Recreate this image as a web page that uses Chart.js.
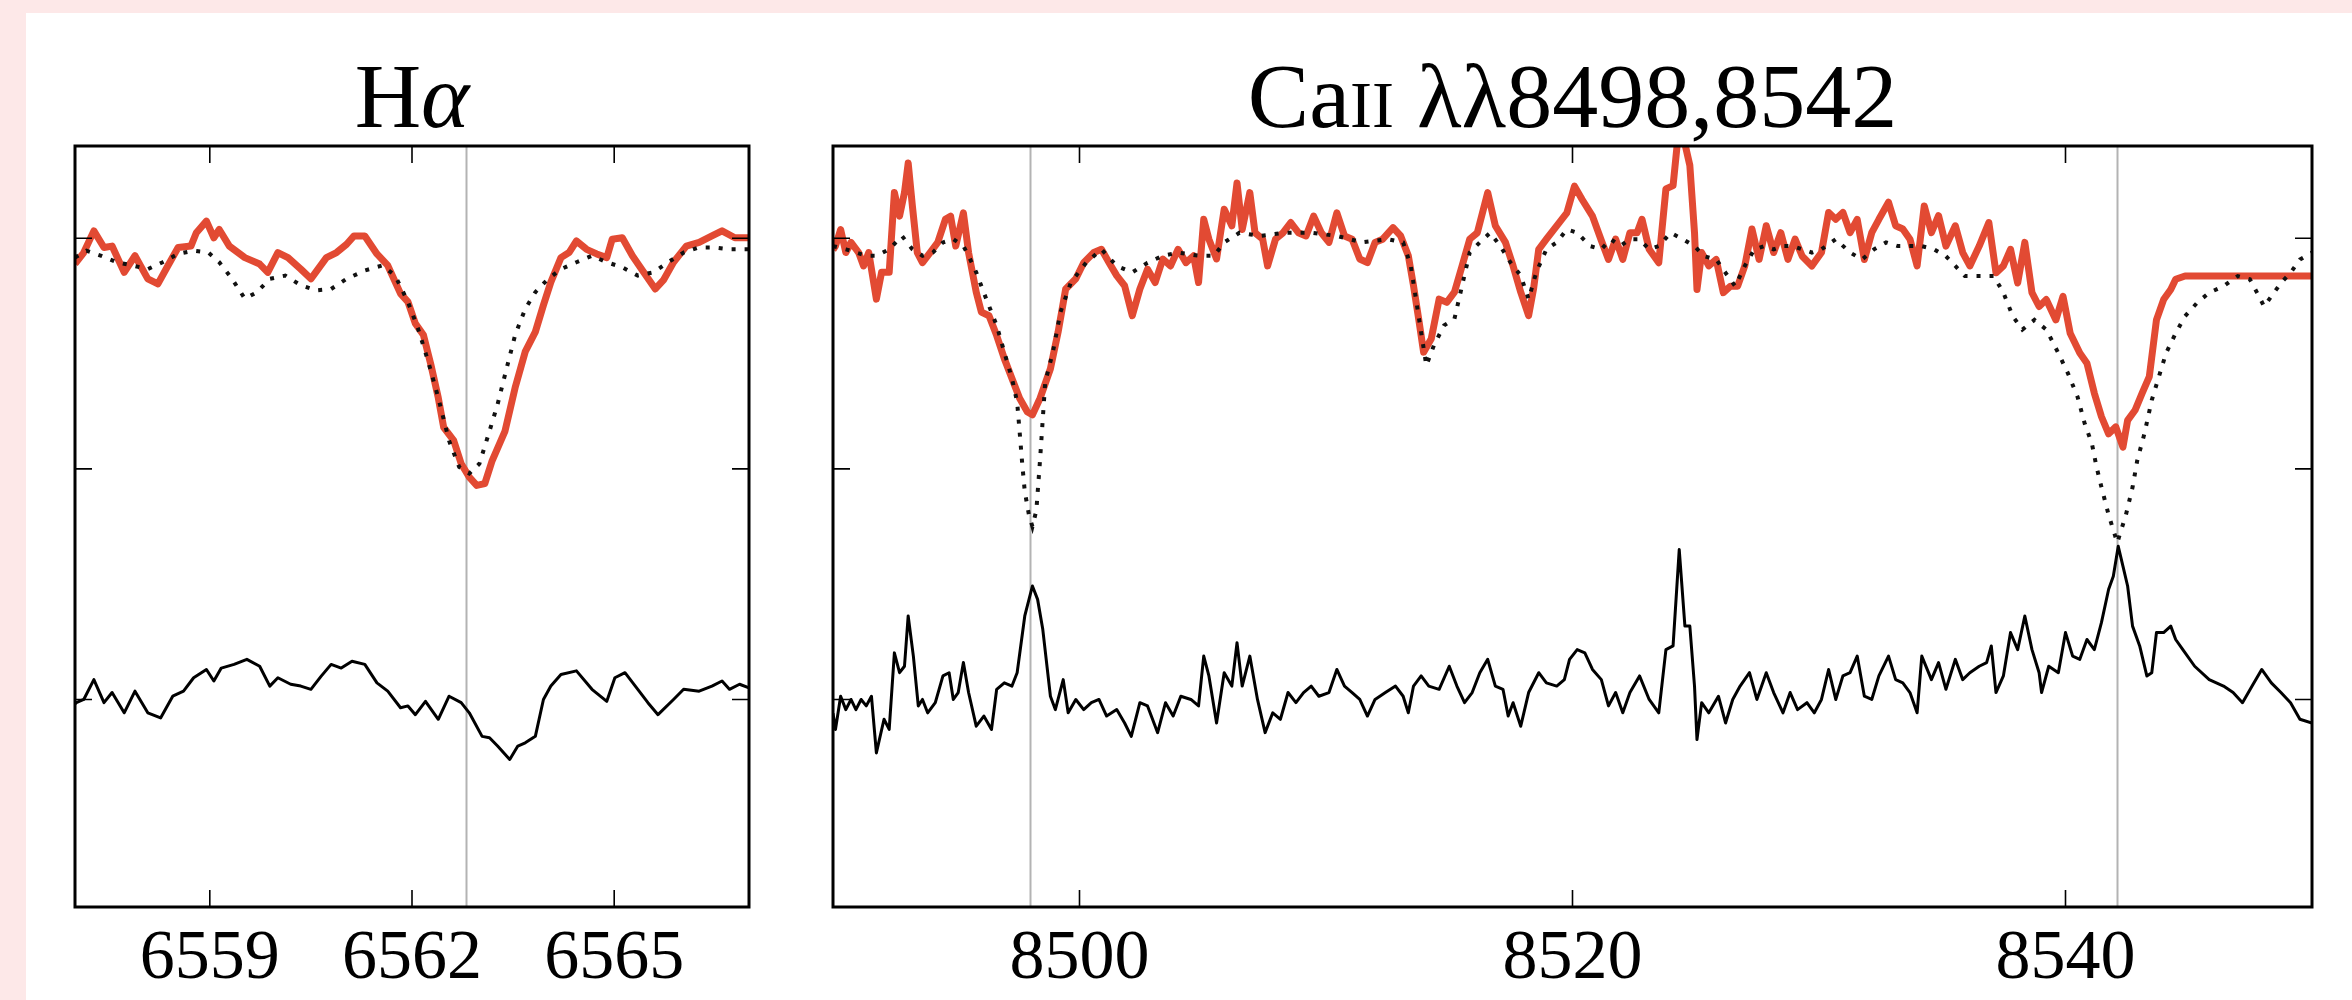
<!DOCTYPE html>
<html>
<head>
<meta charset="utf-8">
<script src="https://cdn.jsdelivr.net/npm/chart.js@4.4.1/dist/chart.umd.min.js"></script>
<style>
  html, body { margin: 0; padding: 0; width: 2352px; height: 1000px; overflow: hidden; background: #fde8e8; }
  #sheet { position: absolute; left: 26px; top: 13px; width: 2326px; height: 987px; background: #fff; }
  canvas { position: absolute; top: 0; }
  #ha { left: 0; }
  #ca { left: 790px; }
</style>
</head>
<body>
<div id="sheet"></div>
<canvas id="ha" width="790" height="1000"></canvas>
<canvas id="ca" width="1562" height="1000"></canvas>
<script>
/* ════════════════════════════════════════════════════
   Hα  /  Ca II λλ8498,8542 — observed vs. template
   ════════════════════════════════════════════════════ */

const FONT = "'Liberation Serif', 'Times New Roman', serif";
const RED = "#e24a33";

/* ─── Ejes ───────────────────────────────────────────── */
const fluxRange = [-0.45, 1.2];
const fluxTicks = [0, 0.5, 1.0];

const haRange = [6557, 6567];
const haTicks = [6559, 6562, 6565];
const haRest = [6562.8];

const caRange = [8490, 8550];
const caTicks = [8500, 8520, 8540];
const caRest = [8498.0, 8542.1];

/* ─── Hα: observado (rojo) ───────────────────────────── */
const haObserved = [
  [6557.0, 0.945], [6557.02, 0.948], [6557.13, 0.969], [6557.28, 1.016], [6557.43, 0.98], [6557.55, 0.983],
  [6557.73, 0.926], [6557.89, 0.962], [6558.08, 0.912], [6558.23, 0.901], [6558.38, 0.941], [6558.53, 0.98],
  [6558.72, 0.983], [6558.8, 1.012], [6558.95, 1.037], [6559.06, 1.001], [6559.14, 1.019], [6559.29, 0.983],
  [6559.52, 0.958], [6559.74, 0.944], [6559.86, 0.926], [6560.01, 0.969], [6560.16, 0.958], [6560.35, 0.933],
  [6560.5, 0.912], [6560.73, 0.958], [6560.88, 0.969], [6561.03, 0.987], [6561.14, 1.005], [6561.3, 1.005],
  [6561.48, 0.966], [6561.64, 0.941], [6561.83, 0.88], [6561.94, 0.862], [6562.05, 0.815], [6562.17, 0.79],
  [6562.28, 0.726], [6562.39, 0.654], [6562.47, 0.59], [6562.62, 0.561], [6562.73, 0.511], [6562.85, 0.482],
  [6562.96, 0.464], [6563.08, 0.468], [6563.19, 0.518], [6563.38, 0.582], [6563.53, 0.676], [6563.68, 0.754],
  [6563.83, 0.797], [6563.95, 0.855], [6564.06, 0.905], [6564.21, 0.958], [6564.33, 0.969], [6564.44, 0.994],
  [6564.59, 0.976], [6564.74, 0.966], [6564.89, 0.958], [6564.97, 0.998], [6565.12, 1.001], [6565.27, 0.962],
  [6565.42, 0.93], [6565.61, 0.89], [6565.73, 0.909], [6565.88, 0.948], [6566.07, 0.983], [6566.26, 0.991],
  [6566.45, 1.005], [6566.6, 1.016], [6566.79, 1.001], [6567.0, 1.001],
];

/* ─── Hα: plantilla (punteada) ───────────────────────── */
const haTemplate = [
  [6557.0, 0.958], [6557.17, 0.973], [6557.39, 0.962], [6557.62, 0.948], [6557.85, 0.941], [6558.08, 0.933],
  [6558.3, 0.948], [6558.53, 0.966], [6558.76, 0.973], [6558.98, 0.969], [6559.14, 0.948], [6559.33, 0.912],
  [6559.52, 0.869], [6559.7, 0.883], [6559.89, 0.912], [6560.12, 0.919], [6560.35, 0.898], [6560.58, 0.887],
  [6560.8, 0.89], [6561.03, 0.912], [6561.3, 0.93], [6561.56, 0.941], [6561.75, 0.919], [6561.94, 0.862],
  [6562.09, 0.804], [6562.24, 0.733], [6562.39, 0.654], [6562.55, 0.561], [6562.7, 0.504], [6562.85, 0.49],
  [6563.0, 0.511], [6563.15, 0.582], [6563.27, 0.64], [6563.38, 0.704], [6563.53, 0.79], [6563.68, 0.847],
  [6563.83, 0.883], [6564.02, 0.912], [6564.21, 0.933], [6564.44, 0.948], [6564.67, 0.962], [6564.89, 0.948],
  [6565.12, 0.937], [6565.35, 0.919], [6565.58, 0.926], [6565.8, 0.948], [6566.03, 0.969], [6566.26, 0.98],
  [6566.48, 0.98], [6566.71, 0.976], [6567.0, 0.976],
];

/* ─── Hα: residuo ────────────────────────────────────── */
const haResidual = [
  [6557.0, -0.01], [6557.02, -0.007], [6557.13, 0], [6557.28, 0.043], [6557.43, -0.007], [6557.55, 0.015],
  [6557.73, -0.029], [6557.89, 0.018], [6558.08, -0.029], [6558.27, -0.04], [6558.45, 0.007], [6558.61, 0.018],
  [6558.76, 0.047], [6558.95, 0.065], [6559.06, 0.04], [6559.17, 0.068], [6559.36, 0.076], [6559.55, 0.087],
  [6559.74, 0.072], [6559.89, 0.029], [6560.01, 0.047], [6560.2, 0.033], [6560.35, 0.029], [6560.5, 0.022],
  [6560.65, 0.05], [6560.8, 0.076], [6560.95, 0.068], [6561.11, 0.083], [6561.3, 0.076], [6561.48, 0.036],
  [6561.64, 0.018], [6561.83, -0.018], [6561.94, -0.014], [6562.05, -0.033], [6562.2, -0.004], [6562.39, -0.043],
  [6562.55, 0.007], [6562.73, -0.007], [6562.85, -0.029], [6563.04, -0.08], [6563.15, -0.083], [6563.27, -0.101],
  [6563.45, -0.13], [6563.57, -0.101], [6563.68, -0.094], [6563.83, -0.08], [6563.95, 0], [6564.06, 0.029],
  [6564.21, 0.054], [6564.44, 0.062], [6564.67, 0.022], [6564.89, -0.004], [6565.01, 0.047], [6565.16, 0.058],
  [6565.35, 0.022], [6565.5, -0.007], [6565.65, -0.033], [6565.88, 0], [6566.03, 0.022], [6566.26, 0.018],
  [6566.45, 0.029], [6566.6, 0.04], [6566.71, 0.022], [6566.86, 0.033], [6567.0, 0.025],
];

/* ─── Ca II: observado (rojo) ────────────────────────── */
const caObserved = [
  [8490.0, 0.975], [8490.1, 0.983], [8490.31, 1.019], [8490.52, 0.969], [8490.73, 0.991], [8491.04, 0.969],
  [8491.24, 0.94], [8491.45, 0.969], [8491.76, 0.868], [8491.97, 0.926], [8492.28, 0.926], [8492.49, 1.099],
  [8492.7, 1.048], [8492.9, 1.099], [8493.05, 1.163], [8493.22, 1.07], [8493.42, 0.969], [8493.63, 0.947],
  [8493.94, 0.969], [8494.25, 0.991], [8494.56, 1.041], [8494.77, 1.048], [8494.98, 0.983], [8495.29, 1.055],
  [8495.5, 0.969], [8495.81, 0.883], [8496.02, 0.84], [8496.33, 0.832], [8496.64, 0.789], [8496.95, 0.739],
  [8497.26, 0.696], [8497.57, 0.653], [8497.88, 0.624], [8498.09, 0.617], [8498.4, 0.653], [8498.82, 0.717],
  [8499.13, 0.796], [8499.44, 0.89], [8499.85, 0.912], [8500.17, 0.947], [8500.58, 0.969], [8500.89, 0.976],
  [8501.2, 0.947], [8501.51, 0.919], [8501.83, 0.897], [8502.14, 0.832], [8502.45, 0.89], [8502.76, 0.933],
  [8503.07, 0.904], [8503.38, 0.955], [8503.69, 0.94], [8504.0, 0.976], [8504.32, 0.947], [8504.63, 0.962],
  [8504.83, 0.904], [8505.04, 1.041], [8505.25, 0.998], [8505.56, 0.955], [8505.87, 1.063], [8506.18, 1.027],
  [8506.39, 1.12], [8506.6, 1.019], [8506.91, 1.099], [8507.12, 1.012], [8507.43, 0.998], [8507.63, 0.94],
  [8507.95, 0.998], [8508.26, 1.012], [8508.57, 1.034], [8508.88, 1.012], [8509.19, 1.005], [8509.5, 1.048],
  [8509.81, 1.012], [8510.12, 0.991], [8510.44, 1.055], [8510.75, 1.005], [8511.06, 0.998], [8511.37, 0.955],
  [8511.68, 0.947], [8511.99, 0.991], [8512.3, 0.998], [8512.72, 1.023], [8513.03, 1.005], [8513.34, 0.962],
  [8513.55, 0.897], [8513.76, 0.825], [8513.96, 0.753], [8514.27, 0.782], [8514.59, 0.868], [8514.9, 0.861],
  [8515.21, 0.883], [8515.52, 0.94], [8515.83, 0.998], [8516.14, 1.012], [8516.56, 1.099], [8516.87, 1.027],
  [8517.28, 0.991], [8517.59, 0.94], [8517.9, 0.883], [8518.22, 0.832], [8518.42, 0.89], [8518.63, 0.976],
  [8518.94, 0.998], [8519.36, 1.027], [8519.77, 1.055], [8520.08, 1.113], [8520.39, 1.084], [8520.81, 1.048],
  [8521.17, 0.995], [8521.46, 0.954], [8521.75, 0.998], [8522.04, 0.954], [8522.33, 1.012], [8522.62, 1.012],
  [8522.82, 1.041], [8523.11, 0.976], [8523.5, 0.947], [8523.79, 1.107], [8524.08, 1.114], [8524.27, 1.215],
  [8524.56, 1.205], [8524.76, 1.158], [8524.95, 1.012], [8525.05, 0.889], [8525.24, 0.969], [8525.53, 0.94],
  [8525.83, 0.954], [8526.12, 0.882], [8526.41, 0.896], [8526.7, 0.896], [8526.99, 0.94], [8527.28, 1.02],
  [8527.57, 0.954], [8527.86, 1.027], [8528.16, 0.969], [8528.45, 1.012], [8528.74, 0.954], [8529.03, 0.998],
  [8529.32, 0.961], [8529.71, 0.94], [8530.1, 0.969], [8530.39, 1.056], [8530.68, 1.041], [8530.97, 1.056],
  [8531.26, 1.012], [8531.55, 1.041], [8531.84, 0.954], [8532.14, 1.012], [8532.43, 1.041], [8532.82, 1.078],
  [8533.11, 1.027], [8533.4, 1.02], [8533.69, 0.998], [8533.98, 0.94], [8534.27, 1.07], [8534.56, 1.012],
  [8534.85, 1.049], [8535.15, 0.983], [8535.53, 1.027], [8535.83, 0.969], [8536.12, 0.94], [8536.5, 0.983],
  [8536.89, 1.034], [8537.18, 0.925], [8537.48, 0.94], [8537.77, 0.976], [8538.06, 0.903], [8538.35, 0.991],
  [8538.64, 0.882], [8538.93, 0.852], [8539.22, 0.867], [8539.61, 0.823], [8539.9, 0.874], [8540.19, 0.794],
  [8540.58, 0.751], [8540.87, 0.729], [8541.17, 0.664], [8541.46, 0.613], [8541.75, 0.576], [8542.04, 0.591],
  [8542.33, 0.547], [8542.52, 0.605], [8542.82, 0.627], [8543.11, 0.664], [8543.4, 0.7], [8543.69, 0.823],
  [8543.98, 0.867], [8544.27, 0.889], [8544.47, 0.911], [8544.85, 0.918], [8550.0, 0.918],
];

/* ─── Ca II: plantilla (punteada) ────────────────────── */
const caTemplate = [
  [8490.0, 0.983], [8490.52, 0.976], [8490.93, 0.969], [8491.35, 0.962], [8491.76, 0.962], [8492.28, 0.976],
  [8492.8, 1.005], [8493.22, 0.976], [8493.63, 0.962], [8494.05, 0.969], [8494.46, 0.991], [8494.88, 0.998],
  [8495.29, 0.983], [8495.5, 0.962], [8495.81, 0.926], [8496.22, 0.868], [8496.64, 0.811], [8496.95, 0.753],
  [8497.26, 0.696], [8497.47, 0.645], [8497.57, 0.581], [8497.68, 0.509], [8497.78, 0.451], [8497.95, 0.4],
  [8498.09, 0.375], [8498.25, 0.41], [8498.4, 0.52], [8498.61, 0.688], [8498.92, 0.753], [8499.23, 0.84],
  [8499.65, 0.904], [8500.27, 0.947], [8500.89, 0.976], [8501.51, 0.94], [8502.14, 0.926], [8502.76, 0.947],
  [8503.38, 0.962], [8504.0, 0.969], [8504.83, 0.962], [8505.46, 0.962], [8505.87, 0.991], [8506.49, 1.012],
  [8507.32, 1.005], [8508.36, 1.012], [8509.4, 1.012], [8510.44, 1.005], [8511.47, 0.991], [8512.51, 0.998],
  [8513.13, 0.991], [8513.44, 0.94], [8513.65, 0.868], [8513.86, 0.796], [8514.07, 0.724], [8514.38, 0.768],
  [8514.79, 0.811], [8515.21, 0.825], [8515.52, 0.897], [8515.83, 0.969], [8516.24, 0.991], [8516.66, 1.012],
  [8517.07, 0.983], [8517.49, 0.947], [8517.9, 0.919], [8518.22, 0.868], [8518.53, 0.926], [8518.94, 0.976],
  [8519.36, 0.991], [8519.77, 1.019], [8520.19, 1.012], [8520.71, 0.983], [8521.17, 0.976], [8521.55, 0.998],
  [8521.94, 0.983], [8522.33, 0.998], [8522.72, 0.998], [8523.11, 0.976], [8523.5, 0.983], [8523.98, 1.012],
  [8524.47, 0.998], [8524.95, 0.983], [8525.34, 0.961], [8525.83, 0.954], [8526.21, 0.925], [8526.6, 0.896],
  [8526.99, 0.94], [8527.38, 0.976], [8527.77, 0.983], [8528.16, 0.976], [8528.54, 0.983], [8528.93, 0.983],
  [8529.32, 0.976], [8529.71, 0.969], [8530.1, 0.976], [8530.68, 0.998], [8531.26, 0.969], [8531.75, 0.954],
  [8532.23, 0.976], [8532.72, 0.991], [8533.2, 0.983], [8533.69, 0.983], [8534.17, 0.983], [8534.66, 0.976],
  [8535.15, 0.961], [8535.53, 0.94], [8535.92, 0.918], [8536.5, 0.918], [8537.09, 0.918], [8537.48, 0.882],
  [8537.86, 0.831], [8538.25, 0.802], [8538.74, 0.823], [8539.22, 0.802], [8539.71, 0.751], [8540.1, 0.707],
  [8540.49, 0.656], [8540.78, 0.598], [8541.07, 0.555], [8541.26, 0.504], [8541.46, 0.46], [8541.75, 0.4],
  [8542.1, 0.34], [8542.45, 0.4], [8542.72, 0.46], [8542.91, 0.518], [8543.2, 0.576], [8543.5, 0.649],
  [8543.79, 0.7], [8544.08, 0.751], [8544.47, 0.794], [8544.85, 0.831], [8545.34, 0.86], [8545.83, 0.882],
  [8546.41, 0.896], [8546.99, 0.918], [8547.48, 0.911], [8547.77, 0.882], [8548.06, 0.852], [8548.35, 0.874],
  [8548.74, 0.903], [8549.13, 0.925], [8549.51, 0.954], [8550.0, 0.969],
];

/* ─── Ca II: residuo ─────────────────────────────────── */
const caResidual = [
  [8490.0, -0.03], [8490.1, -0.065], [8490.31, 0.007], [8490.52, -0.022], [8490.73, 0], [8490.93, -0.022],
  [8491.14, 0], [8491.35, -0.014], [8491.56, 0.007], [8491.76, -0.116], [8492.07, -0.043], [8492.28, -0.065],
  [8492.49, 0.101], [8492.7, 0.058], [8492.9, 0.072], [8493.05, 0.181], [8493.26, 0.094], [8493.46, -0.014],
  [8493.63, 0], [8493.84, -0.029], [8494.15, -0.007], [8494.46, 0.051], [8494.71, 0.058], [8494.88, 0],
  [8495.08, 0.015], [8495.29, 0.08], [8495.5, 0.015], [8495.81, -0.058], [8496.12, -0.036], [8496.43, -0.065],
  [8496.64, 0.022], [8496.95, 0.036], [8497.26, 0.029], [8497.47, 0.058], [8497.78, 0.181], [8498.09, 0.246],
  [8498.3, 0.217], [8498.51, 0.152], [8498.82, 0.007], [8499.02, -0.022], [8499.34, 0.043], [8499.54, -0.029],
  [8499.85, 0], [8500.17, -0.022], [8500.48, -0.007], [8500.79, 0], [8501.1, -0.036], [8501.51, -0.022],
  [8501.83, -0.051], [8502.1, -0.08], [8502.45, -0.007], [8502.76, -0.014], [8503.17, -0.072], [8503.49, -0.007],
  [8503.8, -0.036], [8504.11, 0.007], [8504.52, 0], [8504.83, -0.014], [8505.04, 0.094], [8505.25, 0.051],
  [8505.56, -0.051], [8505.87, 0.058], [8506.18, 0.029], [8506.39, 0.123], [8506.6, 0.029], [8506.91, 0.094],
  [8507.22, 0], [8507.53, -0.072], [8507.84, -0.029], [8508.15, -0.043], [8508.46, 0.015], [8508.78, -0.007],
  [8509.09, 0.015], [8509.4, 0.029], [8509.71, 0.007], [8510.12, 0.015], [8510.44, 0.065], [8510.75, 0.029],
  [8511.06, 0.015], [8511.37, 0], [8511.68, -0.036], [8511.99, 0], [8512.41, 0.015], [8512.82, 0.029],
  [8513.13, 0.007], [8513.34, -0.029], [8513.55, 0.029], [8513.86, 0.051], [8514.17, 0.029], [8514.59, 0.022],
  [8515.0, 0.072], [8515.31, 0.029], [8515.62, -0.007], [8515.93, 0.015], [8516.24, 0.058], [8516.56, 0.087],
  [8516.87, 0.029], [8517.18, 0.022], [8517.39, -0.036], [8517.59, -0.007], [8517.9, -0.058], [8518.22, 0.015],
  [8518.63, 0.058], [8518.94, 0.036], [8519.36, 0.029], [8519.67, 0.043], [8519.88, 0.087], [8520.19, 0.108],
  [8520.5, 0.101], [8520.81, 0.065], [8521.17, 0.043], [8521.46, -0.014], [8521.75, 0.015], [8522.04, -0.029],
  [8522.33, 0.015], [8522.72, 0.051], [8523.11, 0], [8523.5, -0.029], [8523.79, 0.108], [8524.08, 0.116],
  [8524.33, 0.325], [8524.56, 0.159], [8524.76, 0.159], [8524.95, 0.029], [8525.05, -0.087], [8525.24, -0.007],
  [8525.53, -0.029], [8525.92, 0.007], [8526.21, -0.051], [8526.5, 0], [8526.8, 0.029], [8527.18, 0.058],
  [8527.48, 0], [8527.86, 0.058], [8528.16, 0.015], [8528.54, -0.029], [8528.83, 0.015], [8529.13, -0.022],
  [8529.51, -0.007], [8529.81, -0.029], [8530.1, 0], [8530.39, 0.065], [8530.68, 0], [8530.97, 0.051],
  [8531.26, 0.058], [8531.55, 0.094], [8531.84, 0.007], [8532.14, 0], [8532.43, 0.051], [8532.82, 0.094],
  [8533.11, 0.043], [8533.4, 0.036], [8533.69, 0.015], [8533.98, -0.029], [8534.17, 0.094], [8534.56, 0.043],
  [8534.85, 0.08], [8535.15, 0.022], [8535.53, 0.087], [8535.83, 0.043], [8536.12, 0.058], [8536.5, 0.072],
  [8536.8, 0.08], [8536.99, 0.116], [8537.18, 0.015], [8537.48, 0.051], [8537.77, 0.145], [8538.06, 0.108],
  [8538.35, 0.181], [8538.64, 0.108], [8538.93, 0.058], [8539.03, 0.015], [8539.32, 0.072], [8539.71, 0.058],
  [8540.0, 0.145], [8540.29, 0.094], [8540.58, 0.087], [8540.87, 0.13], [8541.17, 0.108], [8541.46, 0.167],
  [8541.75, 0.239], [8541.94, 0.267], [8542.14, 0.332], [8542.33, 0.289], [8542.52, 0.246], [8542.72, 0.159],
  [8543.01, 0.116], [8543.3, 0.051], [8543.5, 0.058], [8543.69, 0.145], [8543.98, 0.145], [8544.27, 0.159],
  [8544.47, 0.13], [8544.76, 0.108], [8545.24, 0.072], [8545.83, 0.043], [8546.41, 0.029], [8546.8, 0.015],
  [8547.18, -0.007], [8547.57, 0.029], [8547.96, 0.065], [8548.35, 0.036], [8548.74, 0.015], [8549.13, -0.007],
  [8549.51, -0.043], [8550.0, -0.051],
];

/* ─── Títulos (segmentos con tamaño propio) ──────────── */
const haTitle = [
  { text: "H", size: 92 },
  { text: "α", size: 92, italic: true },
];
const caTitle = [
  { text: "Ca", size: 92 },
  { text: "II", size: 66 },
  { text: " λλ8498,8542", size: 92 },
];

/* ─── Plugins: marco, líneas de reposo, título ───────── */
const TICK_LEN = 17;

const restPlugin = {
  id: "rest",
  beforeDatasetsDraw(chart, args, opts) {
    const { ctx, chartArea: a, scales } = chart;
    ctx.save();
    ctx.strokeStyle = "#b3b3b3";
    ctx.lineWidth = 2;
    ctx.beginPath();
    opts.lines.forEach((v) => {
      const px = Math.round(scales.x.getPixelForValue(v)) + 0.5;
      ctx.moveTo(px, a.top);
      ctx.lineTo(px, a.bottom);
    });
    ctx.stroke();
    ctx.restore();
  },
};

const framePlugin = {
  id: "frame",
  afterDatasetsDraw(chart, args, opts) {
    const { ctx, chartArea: a, scales } = chart;
    ctx.save();
    ctx.strokeStyle = "#000";
    ctx.lineWidth = 1.6;
    ctx.beginPath();
    opts.xTicks.forEach((v) => {
      const px = scales.x.getPixelForValue(v);
      ctx.moveTo(px, a.bottom);
      ctx.lineTo(px, a.bottom - TICK_LEN);
      ctx.moveTo(px, a.top);
      ctx.lineTo(px, a.top + TICK_LEN);
    });
    opts.yTicks.forEach((v) => {
      const py = scales.y.getPixelForValue(v);
      ctx.moveTo(a.left, py);
      ctx.lineTo(a.left + TICK_LEN, py);
      ctx.moveTo(a.right, py);
      ctx.lineTo(a.right - TICK_LEN, py);
    });
    ctx.stroke();
    ctx.lineWidth = 3;
    ctx.strokeRect(a.left, a.top, a.right - a.left, a.bottom - a.top);
    ctx.restore();
  },
};

const titlePlugin = {
  id: "segTitle",
  afterDraw(chart, args, opts) {
    const { ctx, chartArea: a } = chart;
    const fontOf = (s) => `${s.italic ? "italic " : ""}${s.size}px ${FONT}`;
    ctx.save();
    ctx.fillStyle = "#000";
    ctx.textBaseline = "alphabetic";
    ctx.textAlign = "left";
    let total = 0;
    opts.segments.forEach((s) => {
      ctx.font = fontOf(s);
      total += ctx.measureText(s.text).width;
    });
    let x = (a.left + a.right) / 2 - total / 2;
    opts.segments.forEach((s) => {
      ctx.font = fontOf(s);
      ctx.fillText(s.text, x, opts.baseline);
      x += ctx.measureText(s.text).width;
    });
    ctx.restore();
  },
};

/* ─── Construcción de cada panel ─────────────────────── */
const toXY = (pairs) => pairs.map(([x, y]) => ({ x, y }));

function makePanel(canvasId, range, ticks, rest, title, observed, template, residual, pad) {
  const ctx = document.getElementById(canvasId).getContext("2d");
  return new Chart(ctx, {
    type: "line",
    data: {
      datasets: [
        {
          label: "template",
          data: toXY(template),
          borderColor: "#111",
          borderWidth: 4,
          borderDash: [4, 9],
          borderCapStyle: "butt",
          pointRadius: 0,
          tension: 0,
          order: 0,
        },
        {
          label: "observed",
          data: toXY(observed),
          borderColor: RED,
          borderWidth: 7,
          borderJoinStyle: "round",
          pointRadius: 0,
          tension: 0,
          order: 1,
        },
        {
          label: "residual",
          data: toXY(residual),
          borderColor: "#000",
          borderWidth: 3,
          borderJoinStyle: "round",
          pointRadius: 0,
          tension: 0,
          order: 2,
        },
      ],
    },
    options: {
      responsive: false,
      animation: false,
      parsing: true,
      layout: { padding: { left: pad.left, right: pad.right, top: 146, bottom: 0 } },
      scales: {
        x: {
          type: "linear",
          min: range[0],
          max: range[1],
          afterBuildTicks: (s) => { s.ticks = ticks.map((v) => ({ value: v })); },
          afterFit: (s) => { s.height = 93; },
          grid: { display: false },
          border: { display: false },
          ticks: {
            autoSkip: false,
            maxRotation: 0,
            padding: 3,
            color: "#000",
            font: { family: FONT, size: 70, lineHeight: 1.2 },
            callback: (v) => String(v),
          },
        },
        y: {
          type: "linear",
          min: fluxRange[0],
          max: fluxRange[1],
          display: false,
        },
      },
      plugins: {
        legend: { display: false },
        tooltip: { enabled: false },
        rest: { lines: rest },
        frame: { xTicks: ticks, yTicks: fluxTicks },
        segTitle: { segments: title, baseline: 127 },
      },
    },
    plugins: [restPlugin, framePlugin, titlePlugin],
  });
}

/* ─── Init ───────────────────────────────────────────── */
makePanel("ha", haRange, haTicks, haRest, haTitle, haObserved, haTemplate, haResidual, { left: 75, right: 41 });
makePanel("ca", caRange, caTicks, caRest, caTitle, caObserved, caTemplate, caResidual, { left: 43, right: 40 });
</script>
</body>
</html>
